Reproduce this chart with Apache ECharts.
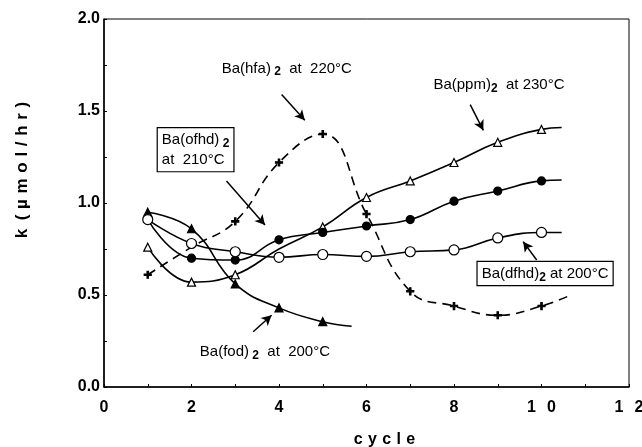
<!DOCTYPE html>
<html>
<head>
<meta charset="utf-8">
<script src="https://cdn.jsdelivr.net/npm/echarts@6/dist/echarts.min.js"></script>
<style>
  html, body { margin: 0; padding: 0; background: #fff; }
  #chart { width: 642px; height: 447px; }
</style>
</head>
<body>
<div id="chart"></div>
<script>
// Deposition rate k (µmol/hr) per cycle for several barium precursors
const cycles = [1, 2, 3, 4, 5, 6, 7, 8, 9, 10];
const ppmK  = [0.76, 0.57, 0.61, 0.75, 0.87, 1.03, 1.12, 1.22, 1.33, 1.40];
const ofhdK = [0.91, 0.70, 0.69, 0.80, 0.84, 0.875, 0.91, 1.01, 1.065, 1.12];
const dfhdK = [0.91, 0.78, 0.735, 0.705, 0.72, 0.71, 0.735, 0.745, 0.81, 0.84];
const hfaK  = [0.61, 0.76, 0.90, 1.22, 1.375, 0.94, 0.52, 0.44, 0.39, 0.44];
const fodCycles = [1, 2, 3, 4, 5];
const fodK  = [0.95, 0.86, 0.56, 0.43, 0.355];

// where each fitted curve stops
const ppmEnd  = [10.46, 1.41];
const ofhdEnd = [10.46, 1.125];
const dfhdEnd = [10.46, 0.84];
const hfaEnd  = [10.67, 0.50];
const fodEnd  = [5.66, 0.33];

// points whose marker sits under another series' marker
const ppmHidden = [4];
const ofhdHidden = [1];
const hfaHidden = [2];

const FONT = '"Liberation Sans", Arial, sans-serif';
const PLUS = 'path://M4,0h2v4h4v2h-4v4h-2v-4h-4v-2h4z';

function build(xs, ys, end, hidden) {
  const pts = xs.map((x, i) => {
    const item = { value: [x, ys[i]] };
    if (hidden && hidden.indexOf(x) >= 0) item.symbol = 'none';
    return item;
  });
  pts.push({ value: end, symbol: 'none' });
  return pts;
}

function curve(name, data, symbol, size, fill, dashed, z) {
  return {
    name: name,
    type: 'line',
    smooth: 0.45,
    data: data,
    symbol: symbol,
    symbolSize: size,
    showAllSymbol: true,
    z: z,
    lineStyle: { color: '#000', width: 1.6, type: dashed ? [9, 6] : 'solid' },
    itemStyle: { color: fill, borderColor: '#000', borderWidth: 1.2 },
    emphasis: { disabled: true },
    animation: false
  };
}

const chart = echarts.init(document.getElementById('chart'), null, { renderer: 'canvas' });

const arrows = [
  [[4.06, 1.59], [4.59, 1.45]],   // hfa
  [[2.80, 1.12], [3.68, 0.88]],   // ofhd
  [[8.37, 1.535], [8.67, 1.395]], // ppm
  [[9.89, 0.69], [9.58, 0.79]],   // dfhd
  [[3.41, 0.30], [3.83, 0.39]]    // fod
];

chart.setOption({
  animation: false,
  grid: {
    left: 104, right: 13, top: 19, bottom: 60,
    outerBoundsMode: 'none', containLabel: false,
    show: true, borderColor: '#000', borderWidth: 1
  },
  xAxis: {
    type: 'value', min: 0, max: 12, interval: 2,
    axisLine: { lineStyle: { color: '#000', width: 1.5 } },
    axisTick: { inside: true, length: 3, lineStyle: { color: '#000' } },
    minorTick: { show: true, splitNumber: 2, length: 3, lineStyle: { color: '#000' } },
    splitLine: { show: false },
    axisLabel: {
      margin: 13, color: '#000', fontFamily: FONT, fontWeight: 'bold', fontSize: 16,
      hideOverlap: false,
      formatter: v => String(v).split('').join('\u2002\u2009')
    }
  },
  yAxis: {
    type: 'value', min: 0, max: 2, interval: 0.5,
    axisLine: { lineStyle: { color: '#000', width: 1.5 } },
    axisTick: { inside: true, length: 3, lineStyle: { color: '#000' } },
    minorTick: { show: true, splitNumber: 2, length: 3, lineStyle: { color: '#000' } },
    splitLine: { show: false },
    axisLabel: {
      margin: 4, color: '#000', fontFamily: FONT, fontWeight: 'bold', fontSize: 16,
      formatter: v => v.toFixed(1)
    }
  },
  series: [
    curve('Ba(hfa)2', build(cycles, hfaK, hfaEnd, hfaHidden), PLUS, 7, '#000', true, 2),
    curve('Ba(fod)2', build(fodCycles, fodK, fodEnd), 'triangle', 8, '#000', false, 3),
    curve('Ba(ppm)2', build(cycles, ppmK, ppmEnd, ppmHidden), 'triangle', 8, '#fff', false, 4),
    curve('Ba(ofhd)2', build(cycles, ofhdK, ofhdEnd, ofhdHidden), 'circle', 8, '#000', false, 5),
    curve('Ba(dfhd)2', build(cycles, dfhdK, dfhdEnd), 'circle', 10, '#fff', false, 6),
    {
      type: 'line', data: [], silent: true,
      markLine: {
        silent: true, symbol: ['none', 'arrow'], symbolSize: [8, 10],
        label: { show: false },
        lineStyle: { color: '#000', width: 1.5, type: 'solid' },
        data: arrows.map(a => [{ coord: a[0] }, { coord: a[1] }])
      }
    }
  ]
});

// labels anchored in data coordinates
function px(p) { return chart.convertToPixel({ gridIndex: 0 }, p); }

const rich = {
  t: { fontFamily: FONT, fontSize: 15, color: '#000', lineHeight: 20 },
  s: { fontFamily: FONT, fontSize: 12, fontWeight: 'bold', color: '#000', padding: [7, 0, 0, 0] }
};

function label(pos, text, boxed) {
  const p = px(pos);
  return {
    type: 'text', x: p[0], y: p[1], z: 50,
    style: {
      text: text, rich: rich, align: 'left', verticalAlign: 'middle',
      backgroundColor: boxed ? '#fff' : null,
      borderColor: boxed ? '#000' : null, borderWidth: boxed ? 1.2 : 0,
      padding: boxed ? [2, 4, 1, 4] : 0
    }
  };
}

// letter-spaced axis titles
const spread = (s, gap) => s.split('').join(gap);
const origin = px([0, 0]);
const far = px([12, 2]);
const plotCentre = (origin[0] + far[0]) / 2 + 18;

chart.setOption({
  graphic: [
    label([2.69, 1.73], '{t|Ba(hfa)}{s| 2}{t|  at  220°C}'),
    label([1.23, 1.29], '{t|Ba(ofhd)}{s| 2}\n{t|at  210°C}', true),
    label([7.53, 1.64], '{t|Ba(ppm)}{s|2}{t|  at 230°C}'),
    label([8.54, 0.617], '{t|Ba(dfhd)}{s|2}{t| at 200°C}', true),
    label([2.19, 0.19], '{t|Ba(fod)}{s| 2}{t|  at  200°C}'),
    {
      type: 'text', x: 22, y: 170, rotation: Math.PI / 2, z: 50,
      style: {
        text: 'k\u2002' + spread('(µmol/hr)', '\u2004'), align: 'center', verticalAlign: 'middle',
        fontFamily: FONT, fontWeight: 'bold', fontSize: 17, fill: '#000'
      }
    },
    {
      type: 'text', x: plotCentre, y: origin[1] + 53, z: 50,
      style: {
        text: spread('cycle', '\u2004'), align: 'center', verticalAlign: 'middle',
        fontFamily: FONT, fontWeight: 'bold', fontSize: 16, fill: '#000'
      }
    }
  ]
});
</script>
</body>
</html>
